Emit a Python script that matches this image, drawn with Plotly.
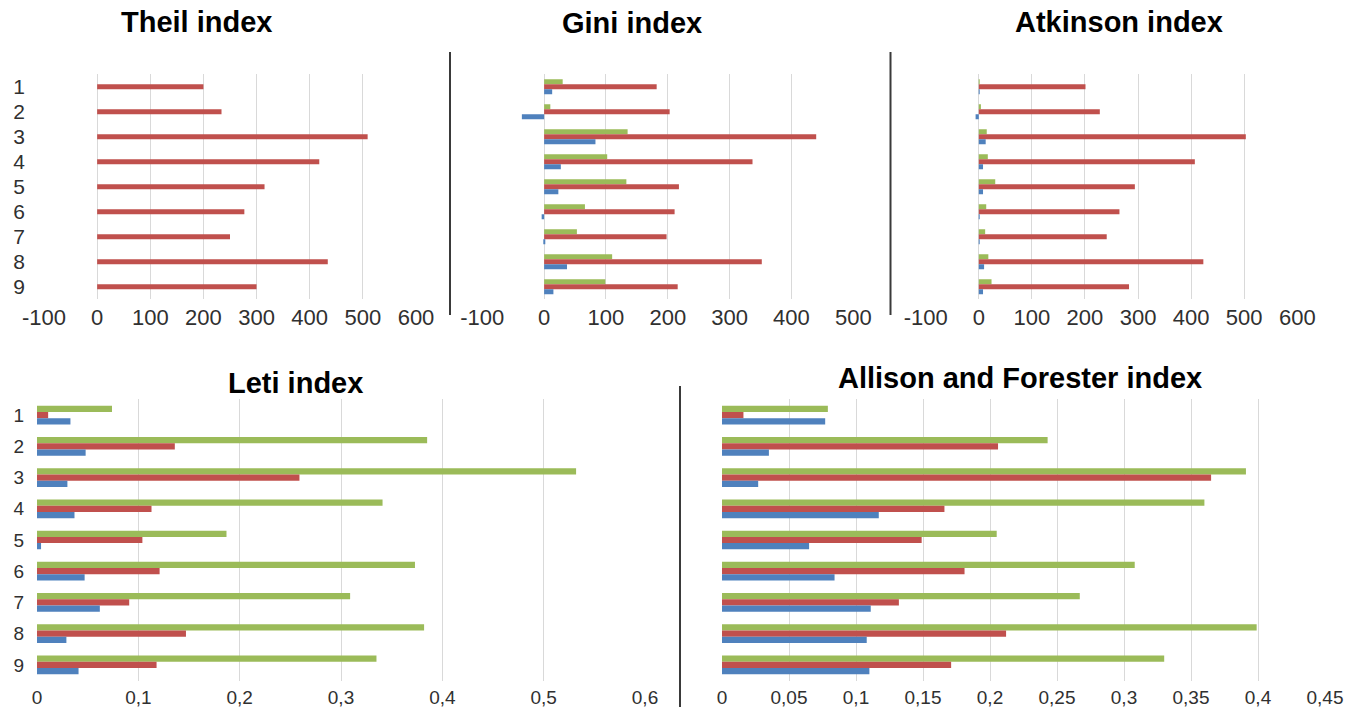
import plotly.graph_objects as go

W, H = 1359, 707

rows = [1, 2, 3, 4, 5, 6, 7, 8, 9]

# ---- Theil index ----
theil_green = [0, 0, 0, 0, 0, 0, 0, 0, 0]
theil_red = [200, 234, 509, 418, 315, 277, 250, 434, 300]
theil_blue = [0, 0, 0, 0, 0, 0, 0, 0, 0]

# ---- Gini index ----
gini_green = [30, 10, 135, 102, 133, 66, 53, 110, 99]
gini_red = [182, 203, 440, 337, 218, 211, 198, 352, 216]
gini_blue = [13, -36, 83, 27, 23, -4, 0.5, 37, 15]

# ---- Atkinson index ----
atk_green = [1, 4, 15, 17, 31, 14, 12, 18, 24]
atk_red = [201, 228, 503, 407, 294, 265, 241, 423, 283]
atk_blue = [1, -6, 13, 8, 8, 0.5, 0.5, 10, 8]

# ---- Leti index ----
leti_green = [0.074, 0.385, 0.532, 0.341, 0.187, 0.373, 0.309, 0.382, 0.335]
leti_red = [0.011, 0.136, 0.259, 0.113, 0.104, 0.121, 0.091, 0.147, 0.118]
leti_blue = [0.033, 0.048, 0.030, 0.037, 0.004, 0.047, 0.062, 0.029, 0.041]

# ---- Allison and Forester index ----
af_green = [0.079, 0.243, 0.391, 0.360, 0.205, 0.308, 0.267, 0.399, 0.330]
af_red = [0.016, 0.206, 0.365, 0.166, 0.149, 0.181, 0.132, 0.212, 0.171]
af_blue = [0.077, 0.035, 0.027, 0.117, 0.065, 0.084, 0.111, 0.108, 0.110]

# tick values / labels
ticks_600 = [-100, 0, 100, 200, 300, 400, 500, 600]
labels_600 = ["-100", "0", "100", "200", "300", "400", "500", "600"]
ticks_500 = [-100, 0, 100, 200, 300, 400, 500]
labels_500 = ["-100", "0", "100", "200", "300", "400", "500"]
leti_ticks = [0, 0.1, 0.2, 0.3, 0.4, 0.5, 0.6]
leti_labels = ["0", "0,1", "0,2", "0,3", "0,4", "0,5", "0,6"]
af_ticks = [0, 0.05, 0.1, 0.15, 0.2, 0.25, 0.3, 0.35, 0.4, 0.45]
af_labels = ["0", "0,05", "0,1", "0,15", "0,2", "0,25", "0,3", "0,35", "0,4", "0,45"]
row_labels = ["1", "2", "3", "4", "5", "6", "7", "8", "9"]

titles = ["Theil index", "Gini index", "Atkinson index", "Leti index", "Allison and Forester index"]

GREEN = "#9BBB59"
RED = "#C0504D"
BLUE = "#4F81BD"
FONT = "Liberation Sans, Arial, sans-serif"
TICKC = "#303030"
GRID = "#d9d9d9"


def px_x(p):
    return p / W


def px_y(p):
    return 1 - p / H


panels = [
    ("x", "y", theil_green, theil_red, theil_blue),
    ("x2", "y2", gini_green, gini_red, gini_blue),
    ("x3", "y3", atk_green, atk_red, atk_blue),
    ("x4", "y4", leti_green, leti_red, leti_blue),
    ("x5", "y5", af_green, af_red, af_blue),
]

fig = go.Figure()
for xa, ya, g, r, b in panels:
    for vals, col in ((g, GREEN), (r, RED), (b, BLUE)):
        fig.add_trace(go.Bar(
            x=vals, y=rows, orientation="h", xaxis=xa, yaxis=ya,
            marker=dict(color=col, line=dict(width=0)),
            showlegend=False, hoverinfo="x+y",
        ))


def xaxis(dom, rng, tv, tt, size, anchor):
    return dict(
        domain=dom, range=rng, tickvals=tv, ticktext=tt,
        showgrid=True, gridcolor=GRID, gridwidth=1, zeroline=False,
        showline=False, ticks="", ticklabelstandoff=3,
        tickfont=dict(family=FONT, size=size, color=TICKC),
        anchor=anchor, fixedrange=True, automargin=False,
    )


def yaxis(dom, anchor, show, size=19, standoff=18):
    return dict(
        domain=dom, range=[9.5, 0.5], tickvals=rows, ticktext=row_labels,
        showgrid=False, zeroline=False, showline=False, ticks="",
        showticklabels=show, ticklabelstandoff=standoff,
        tickfont=dict(family=FONT, size=size, color=TICKC),
        anchor=anchor, fixedrange=True, automargin=False,
    )


top_y = [px_y(299.2), px_y(74.2)]
bot_y = [px_y(680.6), px_y(399.4)]

layout = dict(
    width=W, height=H, autosize=False,
    margin=dict(l=0, r=0, t=0, b=0, pad=0),
    paper_bgcolor="white", plot_bgcolor="white",
    barmode="group", bargap=0.4, bargroupgap=0,
    xaxis=xaxis([px_x(44), px_x(416)], [-100, 600], ticks_600, labels_600, 22, "y"),
    xaxis2=xaxis([px_x(482.3), px_x(853.3)], [-100, 500], ticks_500, labels_500, 22, "y2"),
    xaxis3=xaxis([px_x(925.7), px_x(1297.3)], [-100, 600], ticks_600, labels_600, 22, "y3"),
    xaxis4=xaxis([px_x(37), px_x(645)], [0, 0.6], leti_ticks, leti_labels, 19, "y4"),
    xaxis5=xaxis([px_x(722), px_x(1325)], [0, 0.45], af_ticks, af_labels, 19, "y5"),
    yaxis=yaxis(top_y, "x", True, 21, 18),
    yaxis2=yaxis(top_y, "x2", False),
    yaxis3=yaxis(top_y, "x3", False),
    yaxis4=yaxis(bot_y, "x4", True, 19, 12),
    yaxis5=yaxis(bot_y, "x5", False),
)
fig.update_layout(**layout)

title_pos = [(196.7, 22), (631.7, 22.5), (1119, 22), (295, 383), (1020, 378)]
for t, (cx, cy) in zip(titles, title_pos):
    fig.add_annotation(
        text="<b>%s</b>" % t, x=px_x(cx), y=px_y(cy), xref="paper", yref="paper",
        xanchor="center", yanchor="middle", showarrow=False,
        font=dict(family=FONT, size=29, color="black"),
    )

dividers = [(450, 52, 315), (890.5, 52, 315), (680, 386, 707)]
for x0, y0, y1 in dividers:
    fig.add_shape(type="line", xref="paper", yref="paper",
                  x0=px_x(x0), x1=px_x(x0), y0=px_y(y0), y1=px_y(y1),
                  line=dict(color="#3a3a3a", width=2))

fig.write_html(
    "out.html",
    config={"displayModeBar": False},
    post_script="document.body.style.margin='0px';document.body.style.overflow='hidden';",
)
